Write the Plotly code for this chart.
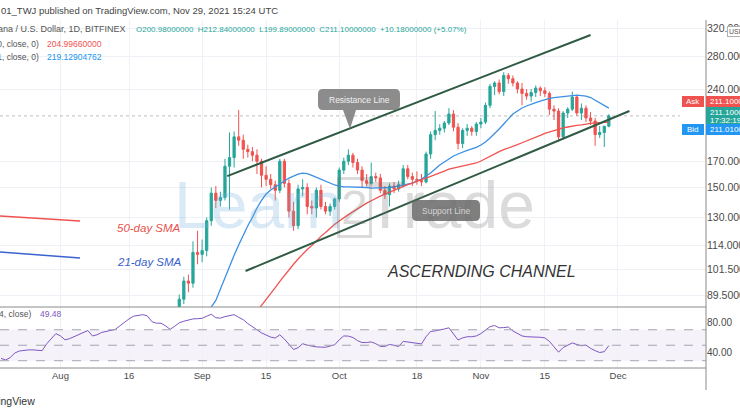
import plotly.graph_objects as go
import pandas as pd

# ---------------- data ----------------
candle_start = "2021-08-27"
opens = [79, 88, 96, 95, 110,
         109, 111, 128, 146, 141, 143, 166, 173, 191, 188, 180, 178, 175, 170, 159, 156, 152, 148, 170, 153,
         134, 125, 149, 150, 137, 136, 148, 137, 134, 137,
         142, 163, 170, 175, 169, 163, 155, 153, 158, 157, 148, 145, 151, 149, 152, 164, 158, 156, 155, 154,
         176, 193, 197, 199, 204, 213, 200, 185, 197, 199, 196,
         203, 205, 222, 243, 247, 237, 256, 252, 247, 240, 235, 232, 236, 241, 238, 235, 218, 216, 191, 214,
         218, 231, 214, 219, 209, 206, 193, 195, 200.98]
highs = [90, 98, 99, 116, 122,
         117, 130, 150, 151, 147, 172, 195, 196, 217, 193, 184, 182, 180, 172, 166, 160, 155, 172, 172, 156,
         140, 152, 156, 153, 141, 150, 152, 140, 139, 143,
         165, 173, 180, 177, 172, 166, 160, 169, 161, 160, 151, 153, 154, 155, 167, 167, 161, 162, 160, 178,
         196, 216, 203, 206, 219, 217, 204, 199, 203, 201, 205,
         209, 225, 246, 249, 251, 260, 259, 256, 249, 247, 240, 240, 244, 243, 242, 237, 222, 219, 216, 220,
         237, 233, 224, 222, 215, 209, 201, 201, 212.84]
lows = [77, 86, 91, 93, 104,
        105, 108, 125, 136, 137, 141, 135, 165, 183, 172, 173, 170, 160, 150, 151, 149, 141, 146, 150, 130,
        122, 123, 144, 132, 132, 130, 135, 132, 131, 135,
        140, 160, 167, 165, 160, 150, 151, 152, 154, 146, 142, 137, 146, 147, 150, 156, 151, 152, 151, 153,
        172, 188, 193, 195, 202, 196, 180, 181, 192, 192, 192,
        199, 203, 219, 233, 234, 232, 246, 243, 235, 222, 228, 226, 231, 232, 231, 212, 207, 187, 189, 209,
        216, 211, 207, 205, 202, 183, 190, 182, 199.89]
closes = [88, 96, 95, 110, 109,
          111, 128, 146, 141, 143, 166, 173, 191, 188, 180, 178, 175, 170, 159, 156, 152, 148, 170, 153, 134,
          125, 149, 150, 137, 136, 148, 137, 134, 137, 142,
          163, 170, 175, 169, 163, 155, 153, 158, 157, 148, 145, 151, 149, 152, 164, 158, 156, 155, 154, 176,
          193, 197, 199, 204, 213, 200, 185, 197, 199, 196, 203,
          205, 222, 243, 247, 237, 256, 252, 247, 240, 235, 232, 236, 241, 238, 235, 218, 216, 191, 214, 218,
          231, 214, 219, 209, 206, 193, 195, 200.98, 211.10]

sma21_start = "2021-09-02"
sma21 = [76, 84.8, 87.5, 92.5, 97.5, 103, 108.5, 114, 119.5, 125, 130, 136, 141, 145.4, 148.2, 150.4,
         152.5, 154.7, 156.9, 158.4, 159.9, 160.7, 160.3, 159, 157.5, 156, 154.7, 153.2, 151.8,
         151, 150.4, 150.4, 150.4, 150.4, 150.4, 150, 149.6, 149.6, 149.6, 149.6, 150, 150.4, 151.1, 151.8,
         152.5, 153.2, 154.7, 156.2, 158.4, 160.7, 163.8, 167.0, 169.4, 171.8, 174.3, 176.0, 177.7, 179,
         180.3, 181.6,
         183.7, 186.3, 189.9, 193.6, 198.3, 203.1, 208.0, 213.0, 216.1, 219.2, 221.3, 223.4, 225.0, 226.6,
         228.2, 229.4, 230.4, 231.0, 231.5, 232.1, 232.6, 233.2, 232.6, 232.1, 230.4, 227.7, 224.9, 222.3,
         219.13]

sma50_start = "2021-09-12"
sma50 = [79, 83, 85.5, 87.8, 90.4, 93, 95.8, 98.6, 101.5, 104, 106.6, 109.2, 111.6, 113.7, 116.5, 118.8,
         121, 123.5, 125.8,
         127.8, 130, 131.8, 133.6, 135.6, 137.5, 139.2, 140.8, 142.5, 143.9, 145.3, 146.7, 148.1, 149.2,
         150.6, 152, 153.2, 154.6, 155.7, 156.8, 158, 159.5, 161, 162.2, 163.8, 164.6, 165.4, 166.2, 167,
         167.8, 168.6,
         170.2, 172.2, 174.3, 176.4, 178, 179.7, 181, 182.3, 184, 185.7, 187.5, 189.2, 190.5, 192.3, 194.1,
         195.5, 196.9, 198.3, 199.3, 200.2, 201.2, 201.7, 202.2, 203.1, 203.6, 204.1, 204.5, 204.8, 205.0]

rsi_start = "2021-07-19"
rsi = [33, 31, 34, 40, 42.5, 43.5, 44, 44, 43.5, 43,
       52, 58, 65, 62, 57, 58.5, 61, 63.5, 67, 69,
       62, 63.5, 66.5, 68, 69.5, 70.5, 75, 80, 84, 87.5,
       88.5, 89.5, 88, 80.5, 78.5, 78.5, 75, 70.5, 74.5, 79,
       81, 83, 84, 84.3, 84.8, 87.5, 90, 85.5, 85, 87,
       88.5, 89.5, 86, 83, 78, 73.5, 70, 66, 63, 60.5,
       59.3, 63.5, 58, 51, 44.5, 46.8, 52, 50, 48.5, 47.9,
       47.6, 47.3, 49, 50.5, 57, 62, 61.8, 60, 56, 53.5,
       53.5, 54.3, 52, 48.5, 48.5, 51, 50, 48.3, 55, 54.3,
       52.8, 52, 51.7, 61, 67.8, 68.5, 69.5, 71, 72.5, 64,
       56.8, 59.5, 61, 61, 62, 65, 69, 74, 75.5, 72.5,
       72.8, 73.5, 68.5, 65.5, 62, 61, 61, 61, 60.3, 59.5,
       55, 48, 41, 47, 50.5, 53, 51, 49.3, 50.2, 46,
       43, 40.6, 41.7, 49.48]

channel_upper_dates = ["2021-09-06 12:00", "2021-11-25 00:00"]
channel_upper = [158.4, 310.6]
channel_lower_dates = ["2021-09-10 12:00", "2021-12-03 12:00"]
channel_lower = [100.7, 216.1]

price_ticks = [89.5, 101.5, 114, 130, 150, 170, 240, 280, 320]
rsi_ticks = [40, 80]
rsi_levels = [30, 50, 70]
time_ticks = ["2021-08-01", "2021-08-16", "2021-09-01", "2021-09-15", "2021-10-01",
              "2021-10-18", "2021-11-01", "2021-11-15", "2021-12-01"]
time_labels = ["Aug", "16", "Sep", "15", "Oct", "18", "Nov", "15", "Dec"]

ohlc_last = dict(o=200.98, h=212.84, l=199.89, c=211.10, chg=10.18, pct=5.07)
last_price = 211.10
ask_price = 211.10
bid_price = 211.01
sma50_last = 204.99660000
sma21_last = 219.12904762
rsi_last = 49.48
countdown = "17:32:19"

# ---------------- layout helpers ----------------
W, H = 740, 416
ML, MR, MT, MB = 0, 34, 20, 48
PW = W - ML - MR
PH = H - MT - MB


def px(x):
    return (x - ML) / PW


def py(y):
    return (H - MB - y) / PH


GREEN = "#26a69a"
RED = "#ef5350"
BLUE = "#2196f3"
SMA_BLUE = "#3d8fe3"
SMA_RED = "#f0524f"
PURPLE = "#7e57c2"
GRID = "#eef1f5"
TXT = "#4a4a4a"
FONT = "Liberation Sans"

candle_dates = pd.date_range(candle_start, periods=len(opens), freq="D")
sma21_dates = pd.date_range(sma21_start, periods=len(sma21), freq="D")
sma50_dates = pd.date_range(sma50_start, periods=len(sma50), freq="D")
rsi_dates = pd.date_range(rsi_start, periods=len(rsi), freq="D")

x_range = ["2021-07-18 18:30", "2021-12-20 06:15"]

fig = go.Figure()

fig.add_trace(go.Candlestick(
    x=candle_dates, open=opens, high=highs, low=lows, close=closes,
    increasing=dict(line=dict(color=GREEN, width=1), fillcolor=GREEN),
    decreasing=dict(line=dict(color=RED, width=1), fillcolor=RED),
    whiskerwidth=0, showlegend=False, xaxis="x", yaxis="y", hoverinfo="skip"))

fig.add_trace(go.Scatter(x=sma21_dates, y=sma21, mode="lines",
                         line=dict(color=SMA_BLUE, width=1.3), showlegend=False,
                         xaxis="x", yaxis="y", hoverinfo="skip"))
fig.add_trace(go.Scatter(x=sma50_dates, y=sma50, mode="lines",
                         line=dict(color=SMA_RED, width=1.3), showlegend=False,
                         xaxis="x", yaxis="y", hoverinfo="skip"))
for d, v in ((channel_upper_dates, channel_upper), (channel_lower_dates, channel_lower)):
    fig.add_trace(go.Scatter(x=d, y=v, mode="lines", line=dict(color="#2f5a43", width=2),
                             showlegend=False, xaxis="x", yaxis="y", hoverinfo="skip"))

fig.add_trace(go.Scatter(x=rsi_dates, y=rsi, mode="lines", line=dict(color=PURPLE, width=1),
                         showlegend=False, xaxis="x2", yaxis="y2", hoverinfo="skip"))

main_dom = [py(307), 1]
rsi_dom = [0, py(307)]

fig.update_layout(
    width=W, height=H,
    margin=dict(l=ML, r=MR, t=MT, b=MB, autoexpand=False),
    paper_bgcolor="white", plot_bgcolor="white",
    font=dict(family=FONT, size=8, color=TXT),
    showlegend=False,
    xaxis=dict(domain=[0, 1], anchor="y", range=x_range, tickvals=time_ticks,
               showticklabels=False, showgrid=True, gridcolor=GRID, zeroline=False,
               showline=False, ticks="", rangeslider=dict(visible=False), matches="x2",
               automargin=False),
    xaxis2=dict(domain=[0, 1], anchor="y2", range=x_range, tickvals=time_ticks,
                ticktext=time_labels, showgrid=True, gridcolor=GRID, zeroline=False,
                showline=False, ticks="", tickfont=dict(size=9.5, color=TXT), automargin=False),
    yaxis=dict(domain=main_dom, anchor="x", type="log",
               range=[1.92840, 2.52323], side="right",
               tickvals=price_ticks, ticktext=[f"{v:.8f}" for v in price_ticks],
               showgrid=True, gridcolor=GRID, zeroline=False, ticks="",
               tickfont=dict(size=10.5, color=TXT), automargin=False),
    yaxis2=dict(domain=rsi_dom, anchor="x2", range=[20.6, 99.4], side="right",
                tickvals=rsi_ticks, ticktext=[f"{v:.2f}" for v in rsi_ticks],
                showgrid=False, zeroline=False, ticks="",
                tickfont=dict(size=10, color=TXT), automargin=False),
)

shapes = []
# RSI band and levels
shapes.append(dict(type="rect", xref="paper", yref="y2", x0=0, x1=1,
                   y0=rsi_levels[0], y1=rsi_levels[2],
                   fillcolor="rgba(126,87,194,0.08)", line=dict(width=0), layer="below"))
for lv in rsi_levels:
    shapes.append(dict(type="line", xref="paper", yref="y2", x0=0, x1=1, y0=lv, y1=lv,
                       line=dict(color="#a4a4b0", width=1, dash="dash")))
# last price dotted line
shapes.append(dict(type="line", xref="paper", yref="y", x0=0, x1=px(680),
                   y0=last_price, y1=last_price,
                   line=dict(color="rgba(110,110,110,0.45)", width=1, dash="dot")))
# pane borders
shapes.append(dict(type="line", xref="paper", yref="paper", x0=0, x1=1, y0=py(307), y1=py(307),
                   line=dict(color="#8a8a8a", width=1)))
shapes.append(dict(type="line", xref="paper", yref="paper", x0=0, x1=1, y0=py(368), y1=py(368),
                   line=dict(color="#8a8a8a", width=1)))
shapes.append(dict(type="line", xref="paper", yref="paper", x0=1, x1=1, y0=py(390), y1=py(20),
                   line=dict(color="#8a8a8a", width=1)))
# hand-drawn legend strokes
shapes.append(dict(type="line", xref="paper", yref="paper", x0=px(0), x1=px(80),
                   y0=py(216), y1=py(221), line=dict(color=SMA_RED, width=1.5)))
shapes.append(dict(type="line", xref="paper", yref="paper", x0=px(0), x1=px(80),
                   y0=py(252), y1=py(258), line=dict(color="#3a62d0", width=1.5)))


def rbox_path(x0, y0, x1, y1, r=4, tip=None):
    def P(x, y):
        return f"{px(x):.5f},{py(y):.5f}"
    seg = [f"M{P(x0 + r, y0)}", f"L{P(x1 - r, y0)}", f"Q{P(x1, y0)} {P(x1, y0 + r)}",
           f"L{P(x1, y1 - r)}", f"Q{P(x1, y1)} {P(x1 - r, y1)}"]
    if tip is not None:
        tx, ty, bx0, bx1 = tip
        seg += [f"L{P(bx1, y1)}", f"L{P(tx, ty)}", f"L{P(bx0, y1)}"]
    seg += [f"L{P(x0 + r, y1)}", f"Q{P(x0, y1)} {P(x0, y1 - r)}",
            f"L{P(x0, y0 + r)}", f"Q{P(x0, y0)} {P(x0 + r, y0)}", "Z"]
    return " ".join(seg)


shapes.append(dict(type="path", xref="paper", yref="paper",
                   path=rbox_path(318, 89, 400, 110, 5, tip=(350, 129, 343, 356)),
                   fillcolor="rgba(120,120,120,0.85)", line=dict(width=0)))
shapes.append(dict(type="path", xref="paper", yref="paper",
                   path=rbox_path(412, 200, 480, 221, 5),
                   fillcolor="rgba(95,95,95,0.8)", line=dict(width=0)))


# price axis badges
def rect(x0, y0, x1, y1, color):
    return dict(type="rect", xref="paper", yref="paper", x0=px(x0), x1=px(x1),
                y0=py(y1), y1=py(y0), fillcolor=color, line=dict(width=0))


shapes += [rect(682, 96, 704, 107, RED), rect(706, 96, 745, 107, RED),
           rect(706, 107, 745, 124, GREEN), rect(682, 124, 704, 135, BLUE),
           rect(706, 124, 745, 135, BLUE)]
fig.update_layout(shapes=shapes)

ann = []


def text(x, y, s, color=TXT, size=9, anchor="left", **kw):
    ann.append(dict(xref="paper", yref="paper", x=px(x), y=py(y), text=s, showarrow=False,
                    xanchor=anchor, yanchor="middle", font=dict(family=FONT, size=size, color=color),
                    **kw))


# watermark
text(258, 205, "Learn", color="rgba(120,175,220,0.28)", size=66, anchor="center")
text(354, 207, "2", color="rgba(110,110,110,0.25)", size=48, anchor="center",
     bordercolor="rgba(110,110,110,0.25)", borderwidth=3, borderpad=1)
text(450, 205, "Trade", color="rgba(110,110,110,0.25)", size=66, anchor="center")

# header
text(-1, 11, "01_TWJ published on TradingView.com, Nov 29, 2021 15:24 UTC", color="#444", size=9.5)
text(128, 29, "Solana / U.S. Dollar, 1D, BITFINEX", color="#555", size=9, anchor="right")
text(134, 29, (f"O{ohlc_last['o']:.8f}  H{ohlc_last['h']:.8f}  L{ohlc_last['l']:.8f}  "
               f"C{ohlc_last['c']:.8f}  +{ohlc_last['chg']:.8f} (+{ohlc_last['pct']:.2f}%)"),
     color=GREEN, size=8)
text(41, 44, "MA (50, close, 0)", color="#555", size=8.5, anchor="right")
text(45, 44, f"{sma50_last:.8f}", color=RED, size=8.5)
text(41, 57, "MA (21, close, 0)", color="#555", size=8.5, anchor="right")
text(45, 57, f"{sma21_last:.8f}", color=BLUE, size=8.5)

# RSI title
text(33, 314, "RSI (14, close)", color="#555", size=8.5, anchor="right")
text(38, 314, f"{rsi_last:.2f}", color=PURPLE, size=8.5)

# drawings
text(359, 99.5, "Resistance Line", color="#f2f2f2", size=8.5, anchor="center")
text(446, 210.5, "Support Line", color="#d4d4d4", size=8.5, anchor="center")
text(115, 228, "<i>50-day SMA</i>", color="#e8534c", size=11.5)
text(115, 262, "<i>21-day SMA</i>", color="#3a5fcf", size=11.5)
text(385, 271, "<i>ASCERNDING CHANNEL</i>", color="#333333", size=16)

# badges text
text(693, 101.5, "Ask", color="white", size=8, anchor="center")
text(708, 101.5, f"{ask_price:.8f}", color="white", size=8)
text(708, 112, f"{ask_price:.8f}", color="white", size=8)
text(708, 120, countdown, color="white", size=8)
text(693, 129.5, "Bid", color="white", size=8, anchor="center")
text(708, 129.5, f"{bid_price:.8f}", color="white", size=8)
text(727, 32, "USD", color="#555", size=7, bordercolor="#b0b0b0", borderwidth=1, borderpad=1,
     bgcolor="white")

# footer
text(37, 401, "TradingView", color="#333", size=10.5, anchor="right")

fig.update_layout(annotations=ann)
fig.write_html("out.html", config={"displayModeBar": False},
               post_script="document.body.style.margin='0';document.body.style.overflow='hidden';")
